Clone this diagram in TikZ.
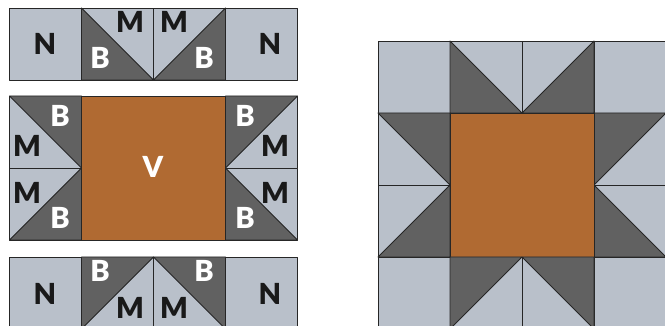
\documentclass[tikz,border=0pt]{standalone}
\usepackage{fontspec}
\setmainfont{Lato}
\newfontfamily\patchfont{Lato Black}
\definecolor{patchlight}{RGB}{185,192,202}
\definecolor{patchdark}{RGB}{97,97,97}
\definecolor{patchbrown}{RGB}{176,106,50}
\tikzset{
  light patch/.style={
    fill=patchlight,
    draw=black!85,
    line width=0.9pt,
    line join=round
  },
  dark patch/.style={
    fill=patchdark,
    draw=black!85,
    line width=0.9pt,
    line join=round
  },
  centre patch/.style={
    fill=patchbrown,
    draw=black!85,
    line width=0.9pt
  },
  black label/.style={
    font=\patchfont\fontsize{29}{29}\selectfont,
    text=black!90,
    inner sep=0pt
  },
  white label/.style={
    font=\patchfont\fontsize{29}{29}\selectfont,
    text=white,
    inner sep=0pt
  }
}
% one unit = 72 (one patch), drawn from the top-left corner of the row
\newcommand{\toprowpatches}{%
  \foreach \c in {0,1,2,3} {
    \filldraw[light patch] (\c*72, 0) rectangle ++(72, 72);
  }
  \filldraw[dark patch] (72, 0) -- (144, 72) -- (72, 72) -- cycle;
  \filldraw[dark patch] (216, 0) -- (216, 72) -- (144, 72) -- cycle;
}
\newcommand{\midrowpatches}{%
  \foreach \r in {0,1} {
    \filldraw[light patch] (0, \r*72) rectangle ++(72, 72);
    \filldraw[light patch] (216, \r*72) rectangle ++(72, 72);
  }
  \filldraw[dark patch] (0, 0) -- (72, 0) -- (72, 72) -- cycle;
  \filldraw[dark patch] (0, 144) -- (72, 72) -- (72, 144) -- cycle;
  \filldraw[dark patch] (216, 0) -- (288, 0) -- (216, 72) -- cycle;
  \filldraw[dark patch] (216, 72) -- (288, 144) -- (216, 144) -- cycle;
  \filldraw[centre patch] (72, 0) rectangle (216, 144);
}
\newcommand{\botrowpatches}{%
  \foreach \c in {0,1,2,3} {
    \filldraw[light patch] (\c*72, 0) rectangle ++(72, 72);
  }
  \filldraw[dark patch] (72, 0) -- (144, 0) -- (72, 72) -- cycle;
  \filldraw[dark patch] (144, 0) -- (216, 0) -- (216, 72) -- cycle;
}
\begin{document}
\begin{tikzpicture}[x=1pt, y=-1pt]
  \useasboundingbox (0, 0) rectangle (665, 326);
  \clip (0, 0) rectangle (665, 326);

  % rows laid out apart, with letters
  \begin{scope}[shift={(9.5, 8)}]
    \toprowpatches
  \end{scope}
  \begin{scope}[shift={(9.5, 96)}]
    \midrowpatches
  \end{scope}
  \begin{scope}[shift={(9.5, 257)}]
    \botrowpatches
  \end{scope}

  % top row letters
  \node[black label] (topN1) at (45, 44) {N};
  \node[white label] (topB1) at (100, 58) {B};
  \node[black label] (topM1) at (130, 22) {M};
  \node[black label] (topM2) at (174, 22) {M};
  \node[white label] (topB2) at (204, 58) {B};
  \node[black label] (topN2) at (270, 44) {N};

  % middle row letters
  \node[white label] (midB1) at (60, 116) {B};
  \node[black label] (midM1) at (27, 146) {M};
  \node[black label] (midM2) at (27, 193) {M};
  \node[white label] (midB2) at (60, 218) {B};
  \node[white label] (midV) at (153, 167) {V};
  \node[white label] (midB3) at (245, 116) {B};
  \node[black label] (midM3) at (275, 146) {M};
  \node[black label] (midM4) at (275, 193) {M};
  \node[white label] (midB4) at (245, 218) {B};

  % bottom row letters
  \node[black label] (botN1) at (45, 294) {N};
  \node[white label] (botB1) at (100, 271) {B};
  \node[black label] (botM1) at (130, 308) {M};
  \node[black label] (botM2) at (174, 308) {M};
  \node[white label] (botB2) at (204, 271) {B};
  \node[black label] (botN2) at (270, 294) {N};

  % the finished block
  \begin{scope}[shift={(378, 41)}]
    \toprowpatches
  \end{scope}
  \begin{scope}[shift={(378, 113)}]
    \midrowpatches
  \end{scope}
  \begin{scope}[shift={(378, 257)}]
    \botrowpatches
  \end{scope}
\end{tikzpicture}
\end{document}
